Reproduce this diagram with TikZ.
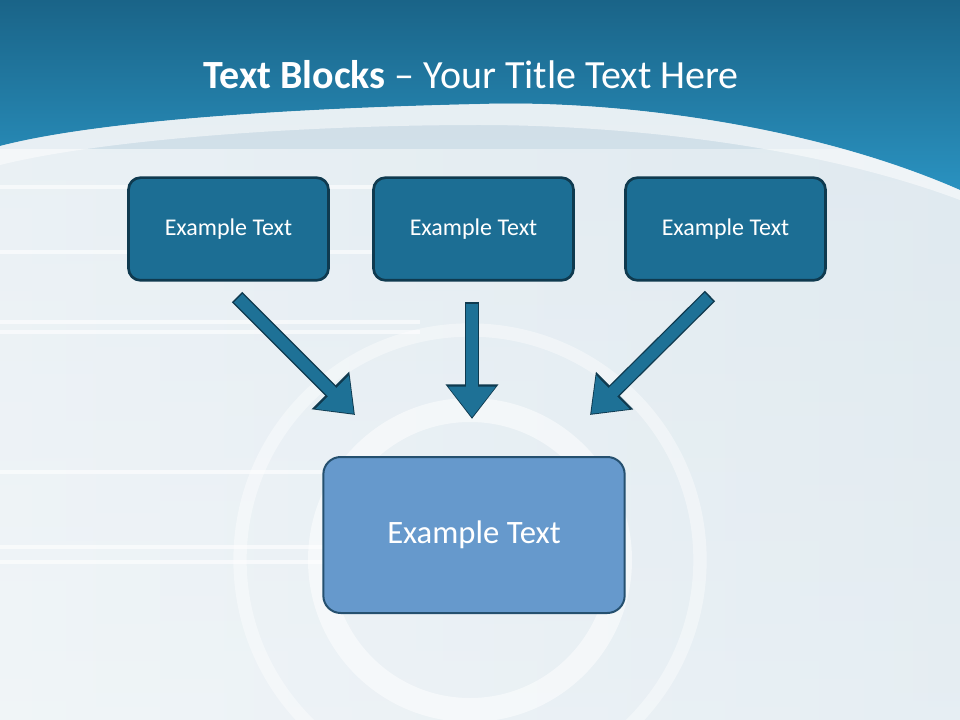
\documentclass[tikz,border=0pt]{standalone}
\usepackage{fontspec}
\setmainfont{Carlito}
\usetikzlibrary{arrows.meta,calc}
\definecolor{topA}{HTML}{1A6488}
\definecolor{topB}{HTML}{2A92C0}
\definecolor{bgA}{HTML}{E6EEF3}
\definecolor{bgB}{HTML}{CCDCE6}
\definecolor{boxF}{HTML}{1C6E94}
\definecolor{boxD}{HTML}{0F3A4F}
\definecolor{bigF}{HTML}{6699CC}
\definecolor{bigD}{HTML}{25506F}
\definecolor{arr}{HTML}{1E7196}
\tikzset{
 smallbox/.style={draw=boxD,line width=2pt,fill=boxF,rounded corners=9pt,minimum width=150pt,minimum height=77pt,text=white,font=\fontsize{18}{21}\selectfont},
 bigbox/.style={draw=bigD,line width=1.5pt,fill=bigF,rounded corners=13pt,minimum width=226pt,minimum height=117pt,text=white,font=\fontsize{24.5}{28}\selectfont},
 arrback/.style={line width=11pt,draw=boxD,-{Triangle[length=26pt,width=38pt]}},
 arrfront/.style={line width=9pt,draw=arr,shorten >=1.2pt,-{Triangle[length=23pt,width=34pt]}}
}
\begin{document}
\begin{tikzpicture}[x=0.75pt,y=-0.75pt]
\useasboundingbox (0,0) rectangle (960,720);
\shade[top color=bgB,bottom color=bgA] (0,0) rectangle (960,720);
\shade[left color=white!60!bgA,right color=bgA,opacity=0.7] (0,150) rectangle (960,720);
\foreach \yy in {185,250,320,330,470,545,560} {\fill[white,opacity=0.6] (0,\yy) rectangle (420,\yy+4);}
\draw[white,opacity=0.5,line width=18pt] (470,560) circle (150);
\draw[white,opacity=0.4,line width=10pt] (470,560) circle (230);
\shade[top color=topA,bottom color=topB] (0,0) -- (960,0) -- (960,190) .. controls (800,120) and (600,100) .. (480,104) .. controls (300,108) and (100,120) .. (0,146) -- cycle;
\fill[white,opacity=0.5] (0,146) .. controls (100,120) and (300,108) .. (480,104) .. controls (600,100) and (800,120) .. (960,190) -- (960,200) .. controls (800,140) and (600,125) .. (480,125) .. controls (300,125) and (100,140) .. (0,165) -- cycle;
\node[text=white,font=\fontsize{30}{36}\selectfont] (title) at (471,75) {\textbf{Text Blocks} – Your Title Text Here};
\node[smallbox] (b1) at (228.5,229) {Example Text};
\node[smallbox] (b2) at (473.5,229) {Example Text};
\node[smallbox] (b3) at (725.5,229) {Example Text};
\node[bigbox] (b4) at (474,535) {Example Text};
\coordinate (s1) at (237,297); \coordinate (e1) at (355,415);
\coordinate (s2) at (472,302); \coordinate (e2) at (472,419);
\coordinate (s3) at (710,296); \coordinate (e3) at (590,415);
\foreach \s/\e in {s1/e1,s2/e2,s3/e3}{
 \draw[arrback] (\s) -- (\e);
 \draw[arrfront] ($(\s)!1.2pt!(\e)$) -- (\e);
}
\end{tikzpicture}
\end{document}
